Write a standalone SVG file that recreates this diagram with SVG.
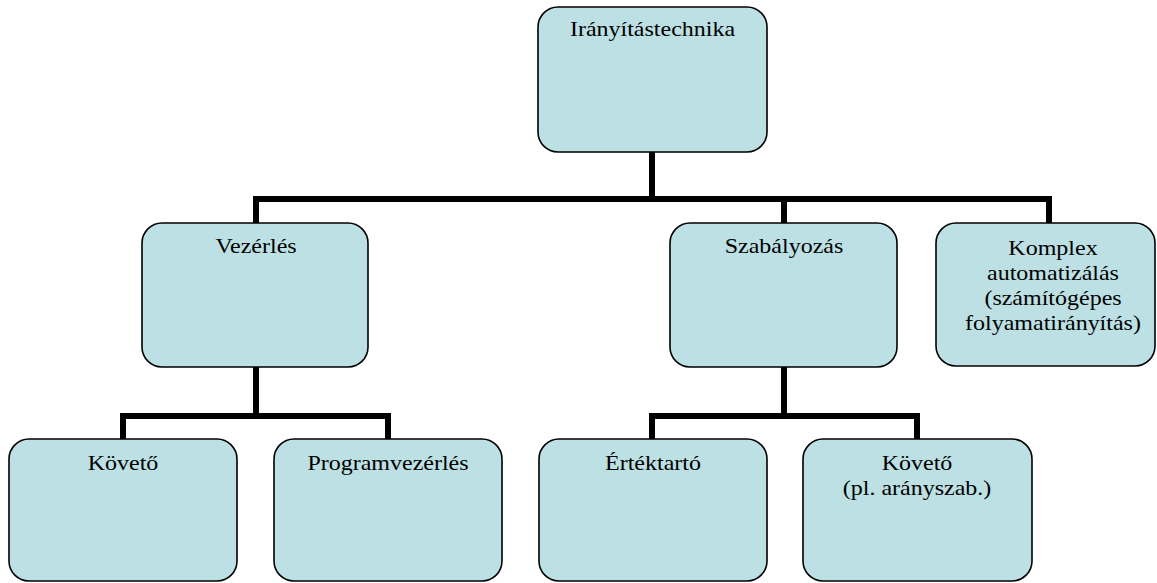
<svg xmlns="http://www.w3.org/2000/svg" width="1157" height="583" viewBox="0 0 1157 583">
  <style>
    .box { fill: #bce0e3; stroke: #000; stroke-width: 1.6; }
    .lbl { font-family: "Liberation Serif", "Times New Roman", serif; font-size: 20px; fill: #000; text-anchor: middle; }
    .wire { fill: none; stroke: #000; stroke-width: 6; stroke-linejoin: miter; stroke-linecap: butt; }
  </style>
  <rect width="1157" height="583" fill="#fff"/>

  <!-- tree connectors -->
  <g id="connectors">
    <path class="wire" d="M652,152 V199 M256,223 V199 H1049 V223 M784,199 V223"/>
    <path class="wire" d="M256,367 V416 M123,439 V416 H388 V439"/>
    <path class="wire" d="M784,367 V416 M652,439 V416 H917 V439"/>
  </g>

  <!-- labels are set in a slightly wide serif: 20px type stretched 1.2x horizontally -->
  <g id="node-iranyitastechnika">
    <rect class="box" x="538" y="7" width="229" height="145" rx="20"/>
    <text class="lbl" transform="translate(652.5,36) scale(1.2,1)">Irányítástechnika</text>
  </g>
  <g id="node-vezerles">
    <rect class="box" x="142" y="223" width="226" height="144" rx="20"/>
    <text class="lbl" transform="translate(256,253) scale(1.2,1)">Vezérlés</text>
  </g>
  <g id="node-szabalyozas">
    <rect class="box" x="670" y="223" width="227" height="144" rx="20"/>
    <text class="lbl" transform="translate(784,253) scale(1.2,1)">Szabályozás</text>
  </g>
  <g id="node-komplex">
    <rect class="box" x="936" y="223" width="219" height="143" rx="20"/>
    <text class="lbl" transform="translate(1053,255) scale(1.2,1)">Komplex</text>
    <text class="lbl" transform="translate(1053,280) scale(1.2,1)">automatizálás</text>
    <text class="lbl" transform="translate(1053,305) scale(1.2,1)">(számítógépes</text>
    <text class="lbl" transform="translate(1053,330) scale(1.2,1)">folyamatirányítás)</text>
  </g>
  <g id="node-koveto">
    <rect class="box" x="9" y="439" width="228" height="142" rx="20"/>
    <text class="lbl" transform="translate(123,470) scale(1.2,1)">Követő</text>
  </g>
  <g id="node-programvezerles">
    <rect class="box" x="274" y="439" width="228" height="142" rx="20"/>
    <text class="lbl" transform="translate(388,470) scale(1.2,1)">Programvezérlés</text>
  </g>
  <g id="node-ertektarto">
    <rect class="box" x="539" y="439" width="228" height="142" rx="20"/>
    <text class="lbl" transform="translate(653,470) scale(1.2,1)">Értéktartó</text>
  </g>
  <g id="node-koveto-aranyszab">
    <rect class="box" x="803" y="439" width="229" height="142" rx="20"/>
    <text class="lbl" transform="translate(917,470) scale(1.2,1)">Követő</text>
    <text class="lbl" transform="translate(917,495) scale(1.2,1)">(pl. arányszab.)</text>
  </g>
</svg>
